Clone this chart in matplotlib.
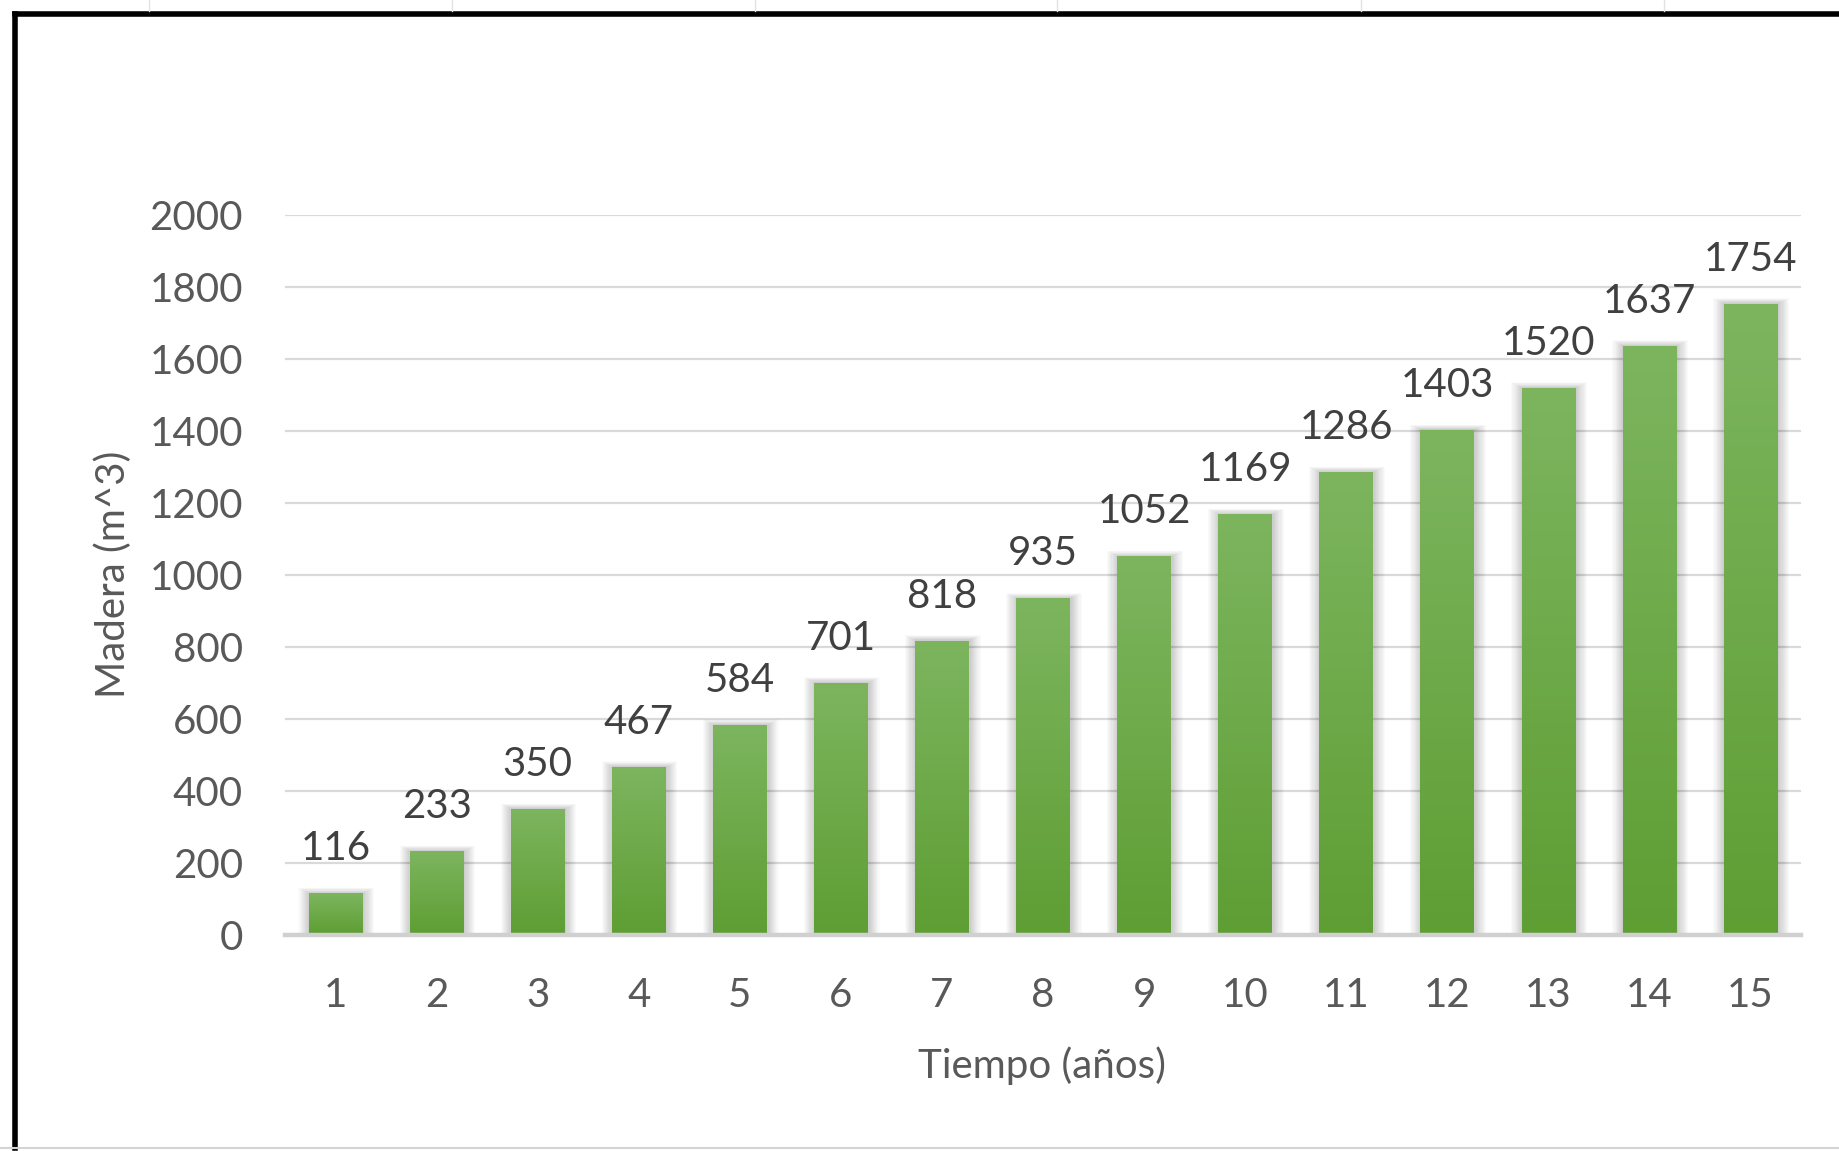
import numpy as np
import matplotlib
matplotlib.use("Agg")
import matplotlib.pyplot as plt
from matplotlib.colors import LinearSegmentedColormap
from matplotlib.lines import Line2D

plt.rcParams['font.family'] = ['Lato', 'DejaVu Sans']

# Wood volume per year
years = ["1", "2", "3", "4", "5", "6", "7", "8", "9", "10", "11", "12", "13", "14", "15"]
volume = [116, 233, 350, 467, 584, 701, 818, 935, 1052, 1169, 1286, 1403, 1520, 1637, 1754]
yticks = [0, 200, 400, 600, 800, 1000, 1200, 1400, 1600, 1800, 2000]

W, H = 1840, 1151
FS = 29
fig = plt.figure(figsize=(W / 100, H / 100), dpi=100)
fig.patch.set_facecolor("white")

ax = fig.add_axes([285 / W, 1 - 935 / H, (1801 - 285) / W, (935 - 215) / H])
ax.set_facecolor("white")

x = np.arange(len(years))
bw = 0.53

# soft outer shadow behind each bar, mostly on the sides
for k in range(10):
    spread = 0.011 * (k + 1)
    ax.bar(x + 0.008, np.array(volume) + 1.5 * (k + 1), width=bw + 2 * spread,
           color="black", alpha=0.02, linewidth=0, zorder=2)

bars = ax.bar(x, volume, width=bw, color="#6eaa48", linewidth=0, zorder=3)

# vertical light-to-dark green gradient inside every bar
green = LinearSegmentedColormap.from_list("green_grad", ["#5e9e33", "#7db55f"])
grad = np.linspace(0, 1, 256).reshape(-1, 1)
for rect in bars:
    x0 = rect.get_x()
    h = rect.get_height()
    im = ax.imshow(grad, cmap=green, origin="lower", aspect="auto",
                   extent=[x0, x0 + rect.get_width(), 0, h], zorder=4)
    im.set_clip_path(rect)

ax.set_xlim(-0.5, len(years) - 0.5)
ax.set_ylim(0, 2000)

# data labels above bars
for xi, v in zip(x, volume):
    ax.annotate(str(v), xy=(xi, v), xytext=(0, 33), textcoords="offset pixels",
                ha="center", va="baseline", fontsize=FS, color="#404040",
                clip_on=False, zorder=6)

ax.set_yticks(yticks)
ax.set_yticklabels([str(t) for t in yticks])
ax.set_xticks(x)
ax.set_xticklabels(years)
ax.tick_params(axis="both", length=0, labelsize=FS, labelcolor="#595959")
ax.tick_params(axis="y", pad=42 * 72 / 100)
ax.tick_params(axis="x", pad=42 * 72 / 100)

ax.grid(axis="y", color="#d9d9d9", linewidth=1.6, zorder=0)
ax.set_axisbelow(True)
for s in ["top", "right", "left"]:
    ax.spines[s].set_visible(False)
ax.spines["bottom"].set_color("#d0d0d0")
ax.spines["bottom"].set_linewidth(3.2)
ax.spines["bottom"].set_zorder(5)

fig.text(1042 / W, 1 - 1066 / H, "Tiempo (años)", ha="center", va="center",
         fontsize=FS, color="#595959")
fig.text(113 / W, 1 - 574 / H, "Madera (m^3)", ha="center", va="center",
         rotation=90, fontsize=FS, color="#595959")

# sheet frame: black edges on left and top, faint grey bottom edge
fig.add_artist(Line2D([15 / W, 15 / W], [0.003, 1 - 14 / H], color="black",
                      linewidth=4, transform=fig.transFigure, solid_capstyle="projecting"))
fig.add_artist(Line2D([15 / W, 1.0], [1 - 14 / H, 1 - 14 / H], color="black",
                      linewidth=4, transform=fig.transFigure, solid_capstyle="projecting"))
fig.add_artist(Line2D([0, 1.0], [1 - 1148 / H, 1 - 1148 / H], color="#d4d4d4",
                      linewidth=1.5, transform=fig.transFigure))
for cx in [149, 452, 755, 1057, 1361, 1664]:
    fig.add_artist(Line2D([cx / W, cx / W], [1 - 11 / H, 1.0], color="#e2e2e2",
                          linewidth=1.0, transform=fig.transFigure))

fig.savefig("out.png", dpi=100, facecolor="white")
